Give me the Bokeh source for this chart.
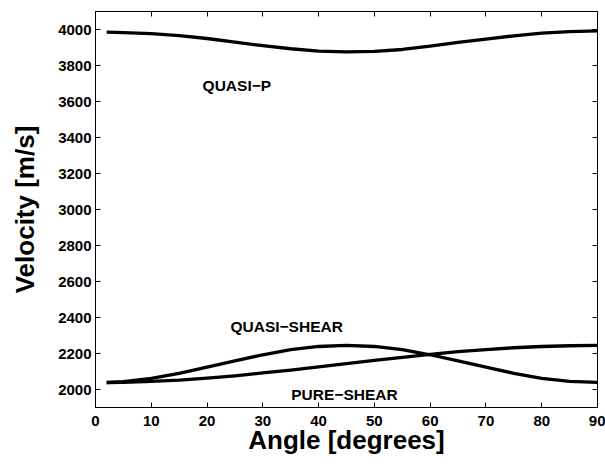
from bokeh.plotting import figure
from bokeh.models import LinearAxis, FixedTicker, Range1d, Label, ColumnDataSource, CustomJSTickFormatter
from bokeh.embed import file_html
from bokeh.resources import INLINE

# Data
angle = [2, 5, 10, 15, 20, 25, 30, 35, 40, 45, 50, 55, 60, 65, 70, 75, 80, 85, 90]
quasi_p = [3985, 3983, 3977, 3966, 3950, 3930, 3910, 3893, 3880, 3876,
           3878, 3889, 3908, 3928, 3947, 3965, 3980, 3988, 3992]
quasi_shear = [2039, 2044, 2062, 2090, 2124, 2159, 2193, 2221, 2239, 2245,
               2239, 2221, 2193, 2159, 2124, 2090, 2062, 2045, 2040]
pure_shear = [2038, 2040, 2045, 2052, 2063, 2076, 2092, 2108, 2126, 2144,
              2162, 2179, 2195, 2210, 2222, 2232, 2239, 2243, 2245]
x_ticks = [0, 10, 20, 30, 40, 50, 60, 70, 80, 90]
y_ticks = [2000, 2200, 2400, 2600, 2800, 3000, 3200, 3400, 3600, 3800, 4000]

FONT = "Liberation Sans"

p = figure(width=605, height=464, output_backend="svg", toolbar_location=None,
           x_range=Range1d(0, 90), y_range=Range1d(1900, 4100),
           min_border_left=95, min_border_right=8, min_border_top=11, min_border_bottom=57)
p.grid.visible = False
p.outline_line_color = "black"
p.outline_line_width = 1
p.background_fill_color = "white"

src = ColumnDataSource(dict(angle=angle, qp=quasi_p, qs=quasi_shear, ps=pure_shear))
for col in ["qp", "qs", "ps"]:
    p.line("angle", col, source=src, line_color="black", line_width=3.3, line_join="round")

def style_axis(ax, ticks):
    ax.ticker = FixedTicker(ticks=ticks)
    ax.major_tick_in = 5
    ax.major_tick_out = 0
    ax.minor_tick_line_color = None
    ax.axis_line_color = "black"
    ax.major_tick_line_color = "black"
    ax.major_label_text_font = FONT
    ax.major_label_text_font_style = "bold"
    ax.major_label_text_font_size = "15px"
    ax.major_label_text_color = "black"
    ax.axis_label_text_font = FONT
    ax.axis_label_text_font_style = "bold"
    ax.axis_label_text_font_size = "26px"
    ax.axis_label_text_color = "black"

style_axis(p.xaxis[0], x_ticks)
style_axis(p.yaxis[0], y_ticks)
p.xaxis[0].axis_label = "Angle [degrees]"
p.yaxis[0].axis_label = "Velocity [m/s]"
p.xaxis[0].major_label_standoff = 8
p.yaxis[0].major_label_standoff = 4
p.xaxis[0].axis_label_standoff = -4
p.yaxis[0].axis_label_standoff = 15

top = LinearAxis()
right = LinearAxis()
for ax, t in [(top, x_ticks), (right, y_ticks)]:
    style_axis(ax, t)
    ax.formatter = CustomJSTickFormatter(code="return ''")
    ax.major_label_standoff = 0
p.add_layout(top, "above")
p.add_layout(right, "right")

for txt, x, y in [("QUASI\u2212P", 19.2, 3662), ("QUASI\u2212SHEAR", 24.2, 2323), ("PURE\u2212SHEAR", 35.1, 1943)]:
    p.add_layout(Label(x=x, y=y, y_offset=5, text=txt, text_font=FONT, text_font_style="bold",
                       text_font_size="15.5px", text_color="black", text_baseline="alphabetic"))

open("out.html", "w").write(file_html(p, INLINE))
